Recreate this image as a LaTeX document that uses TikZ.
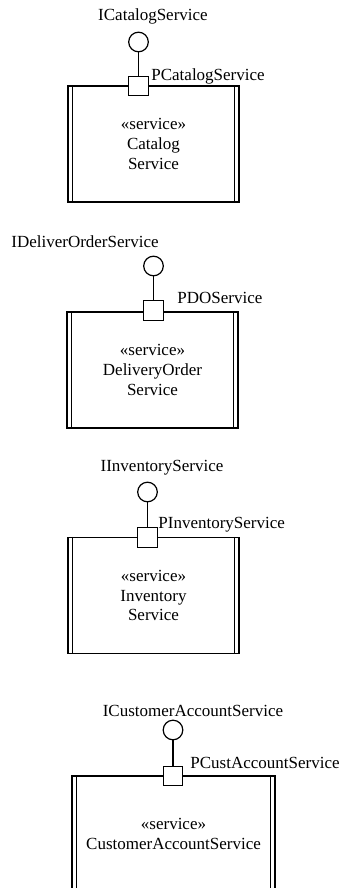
\documentclass[tikz,border=0pt]{standalone}
\usepackage{fontspec}
\setmainfont{Liberation Serif}
\usetikzlibrary{positioning}

\begin{document}
\begin{tikzpicture}[x=.5pt,y=-.5pt,
 comp/.style={draw,line width=.6pt,fill=white,minimum width=85.5pt,minimum height=58pt,align=center,inner sep=0pt,font=\fontsize{8.5}{9.8}\selectfont},
 port/.style={draw,line width=.6pt,fill=white,minimum size=9.8pt,inner sep=0pt},
 iface/.style={draw,circle,line width=.6pt,fill=white,minimum size=9.8pt,inner sep=0pt},
 lbl/.style={inner sep=0pt,font=\fontsize{8.5}{9.8}\selectfont},
 conn/.style={line width=.6pt}]
\clip (0,0) rectangle (343,888);

% Catalog component
\node[comp] (catalog) at (153.5,144) {«service»\\Catalog\\Service};
\node[port] (pcatalog) at (138.5,86) {};
\node[iface] (icatalog) at (138.5,42) {};
\node[lbl] (icatalogtxt) at (153,16) {ICatalogService};
\node[lbl,anchor=west] (pcatalogtxt) at (151,76) {PCatalogService};
\draw[conn] (icatalog) -- (pcatalog);

% Delivery order component
\node[comp] (delivery) at (152.5,370) {«service»\\DeliveryOrder\\Service};
\node[port] (pdelivery) at (153.5,310.5) {};
\node[iface] (idelivery) at (153.5,266) {};
\node[lbl] (ideliverytxt) at (85,242) {IDeliverOrderService};
\node[lbl,anchor=west] (pdeliverytxt) at (177,298) {PDOService};
\draw[conn] (idelivery) -- (pdelivery);

% Inventory component
\node[comp] (inventory) at (153.5,595.5) {«service»\\Inventory\\Service};
\node[port] (pinventory) at (147.5,537.5) {};
\node[iface] (iinventory) at (147.5,492) {};
\node[lbl] (iinventorytxt) at (162,468) {IInventoryService};
\node[lbl,anchor=west] (pinventorytxt) at (158,525) {PInventoryService};
\draw[conn] (iinventory) -- (pinventory);

% Customer account component (runs past the page)
\node[comp,minimum width=101.5pt] (customer) at (173.5,834) {«service»\\CustomerAccountService};
\node[port] (pcustomer) at (173,776) {};
\node[iface] (icustomer) at (173,730) {};
\node[lbl] (icustomertxt) at (193,711) {ICustomerAccountService};
\node[lbl,anchor=west] (pcustomertxt) at (190,763) {PCustAccountService};
\draw[conn] (icustomer) -- (pcustomer);

% inner side bars
\foreach \c in {catalog,delivery,inventory,customer}{
 \draw[conn] ([xshift=2.5pt]\c.north west) -- ([xshift=2.5pt]\c.south west);
 \draw[conn] ([xshift=-2.5pt]\c.north east) -- ([xshift=-2.5pt]\c.south east);
}
\end{tikzpicture}
\end{document}
